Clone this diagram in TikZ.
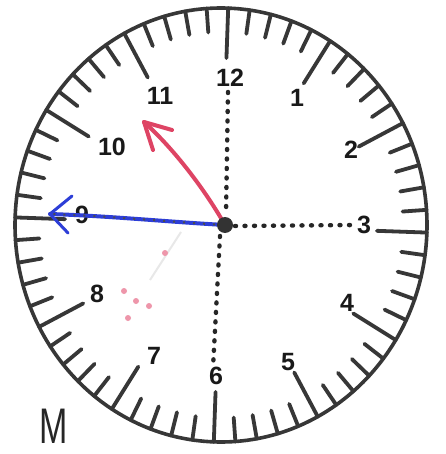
\documentclass[tikz,border=0pt]{standalone}
\usepackage{fontspec}
\newfontfamily\numfont{Liberation Sans}
\usetikzlibrary{calc}
\definecolor{rimgray}{RGB}{55,55,55}
\definecolor{handred}{RGB}{222,68,100}
\definecolor{handblue}{RGB}{45,62,215}
\definecolor{faintpink}{RGB}{238,150,170}
\tikzset{
  rim/.style={draw=rimgray,line width=3.6pt},
  tickline/.style={draw=rimgray,line width=3.8pt,line cap=round},
  num/.style={font=\numfont\bfseries\fontsize{25}{25}\selectfont,text=black!90,inner sep=0pt},
  dotline/.style={draw=black!85,line width=4.4pt,line cap=round,dash pattern=on 1pt off 8.5pt},
  redhand/.style={draw=handred,line width=4pt,line cap=round,line join=round},
  bluehand/.style={draw=handblue,line width=4pt,line cap=round,line join=round},
  letterM/.style={font=\numfont\fontsize{50}{50}\selectfont,inner sep=0pt,xscale=0.68,text=black!85}
}
\begin{document}
\begin{tikzpicture}[x=1pt,y=-1pt]
\useasboundingbox (0,0) rectangle (445,454);
\fill[white] (0,0) rectangle (445,454);
% rim
\draw[rim] (221,225) ellipse [x radius=206,y radius=217];
% ticks
\foreach \i in {0,...,59}{
  \pgfmathsetmacro\L{mod(\i,5)==0 ? 50 : 24}
  \pgfmathsetmacro\A{6*\i+2}
  \draw[tickline] ({221+206*sin(\A)},{225-217*cos(\A)}) -- ({221+(206-\L)*sin(\A)},{225-(217-\L)*cos(\A)});
}
% numbers
\node[num] (n12) at (230,78) {12};
\node[num] (n1) at (297,98) {1};
\node[num] (n2) at (351,150) {2};
\node[num] (n3) at (364,225) {3};
\node[num] (n4) at (347,303) {4};
\node[num] (n5) at (288,362) {5};
\node[num] (n6) at (216,376) {6};
\node[num] (n7) at (154,356) {7};
\node[num] (n8) at (97,294) {8};
\node[num] (n9) at (82,215) {9};
\node[num] (n10) at (112,147) {10};
\node[num] (n11) at (160,96) {11};
% centre
\coordinate (c) at (225,225);
% dotted lines
\draw[dotline] (228,92) -- (226,214);
\draw[dotline] (235,226) -- (356,225);
\draw[dotline] (220,236) -- (213,368);
% faint marks
\draw[gray!18,line width=2pt] (181,232) -- (150,280);
\foreach \p in {(124,291),(136,301),(149,306),(128,318),(165,253)}
  \fill[faintpink] \p circle (3pt);
% blue hand
\coordinate (bt) at (50,214);
\draw[bluehand] (c) .. controls (170,222) and (110,216) .. (bt);
\draw[black!70,line width=2pt,dash pattern=on 2pt off 8pt] (c) .. controls (170,222) and (110,216) .. (bt);
\draw[bluehand,line width=3pt] (72,196) -- (bt) -- (68,233);
% red hand
\coordinate (rt) at (144,122);
\draw[redhand] (c) .. controls (205,190) and (175,150) .. (rt);
\draw[redhand] (153,150) -- (rt) -- (172,130);
% centre dot
\fill[black!80] (c) circle (8pt);
% M
\node[letterM,anchor=base] (m) at (54,443) {M};
\end{tikzpicture}
\end{document}
